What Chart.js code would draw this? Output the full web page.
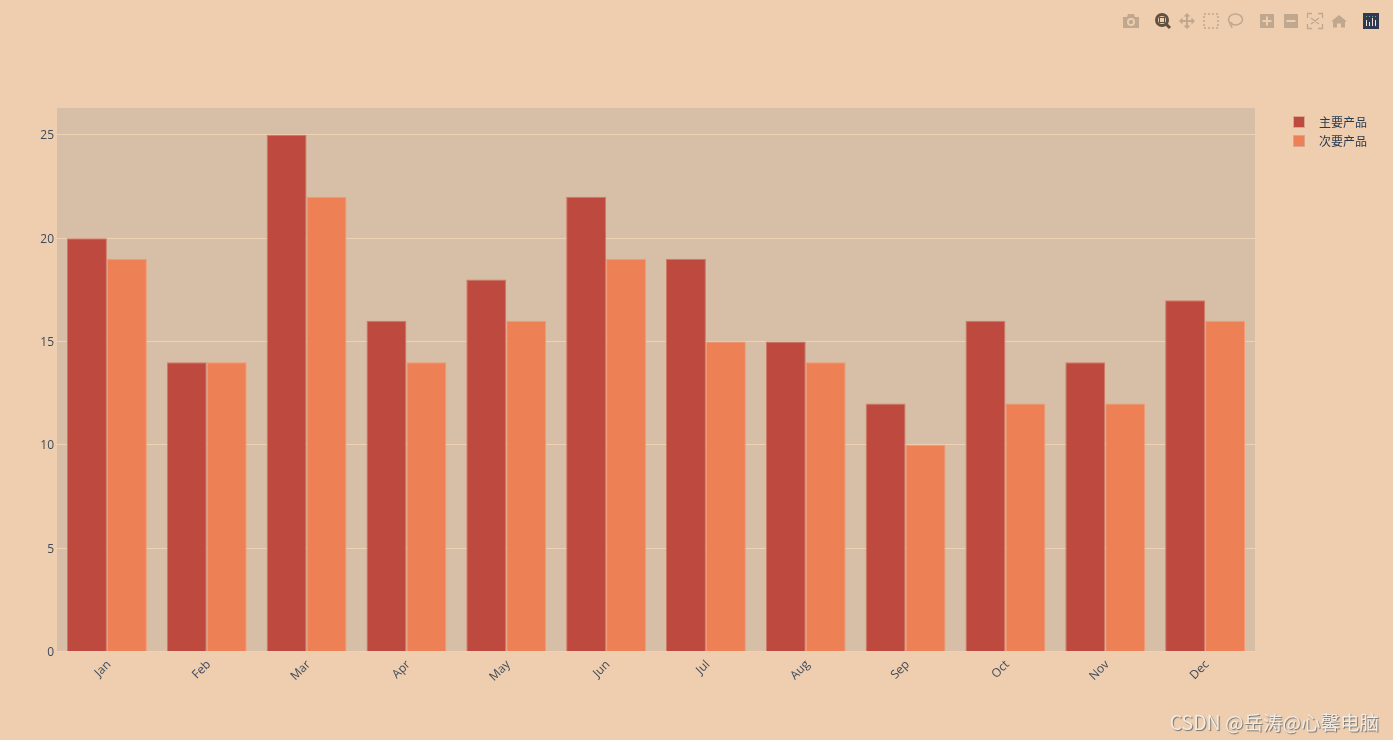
<!DOCTYPE html>
<html>
<head>
<meta charset="utf-8">
<title>主要产品 / 次要产品</title>
<script src="https://cdn.jsdelivr.net/npm/chart.js@4/dist/chart.umd.min.js"></script>
<style>
  html, body { margin: 0; padding: 0; background: #efceaf; overflow: hidden; }
  #wrap { position: relative; width: 1393px; height: 740px; }
  #toolbar { position: absolute; left: 0; top: 0; }
  .legend-row { position: absolute; left: 1293px; height: 18px; line-height: 18px; font: 12px "Noto Sans CJK SC", sans-serif; color: #2a3a50; }
  .legend-row i { position: absolute; left: 0; top: 3px; width: 12px; height: 12px; box-sizing: border-box; border: 1px solid #d9a58c; }
  .legend-row span { position: absolute; left: 26px; top: 0; white-space: nowrap; }
  #mark { position: absolute; right: 14px; top: 707px; font: 19.5px "Noto Sans CJK SC", sans-serif; color: #f0ebe4; text-shadow: 1px 1px 1px #77726b; white-space: nowrap; }
</style>
</head>
<body>
<div id="wrap">
  <canvas id="bars" width="1393" height="740"></canvas>

  <svg id="toolbar" width="1393" height="40" fill="#bfa88f" stroke="none">
    <!-- camera -->
    <path d="M1123 17h4l1-3h6l1 3h4v11h-16z"/>
    <circle cx="1131" cy="22" r="4" fill="#efceaf"/><circle cx="1131" cy="22" r="2.2"/>
    <!-- zoom, active -->
    <circle cx="1162" cy="20" r="5.500" fill="none" stroke="#5f5040" stroke-width="3"/>
    <rect x="1159.500" y="17.500" width="5" height="5" fill="none" stroke="#5f5040" stroke-width="1"/>
    <path d="M1166 24l4 4" stroke="#5f5040" stroke-width="3"/>
    <!-- pan -->
    <path d="M1187 13l3.500 3.500h-2.500v3.500h3.500v-2.500l3.500 3.500-3.500 3.500v-2.500h-3.500v3.500h2.500l-3.500 3.500-3.500-3.500h2.500v-3.500h-3.500v2.500l-3.500-3.500 3.500-3.500v2.500h3.500v-3.500h-2.500z"/>
    <!-- box select -->
    <rect x="1204" y="14" width="14" height="14" fill="none" stroke="#bfa88f" stroke-width="1.5" stroke-dasharray="2 2"/>
    <!-- lasso -->
    <ellipse cx="1235.500" cy="19.500" rx="7" ry="5.500" fill="none" stroke="#bfa88f" stroke-width="1.5"/>
    <circle cx="1231" cy="24" r="1.500" fill="none" stroke="#bfa88f"/>
    <path d="M1231 25l1 3" fill="none" stroke="#bfa88f" stroke-width="1.5"/>
    <!-- zoom in / out -->
    <rect x="1260" y="14" width="14" height="14"/>
    <path d="M1262.500 20h9v2h-9zM1266 16.500h2v9h-2z" fill="#efceaf"/>
    <rect x="1284" y="14" width="14" height="14"/>
    <path d="M1286.500 20h9v2h-9z" fill="#efceaf"/>
    <!-- autoscale -->
    <path d="M1307.500 18v-4.500h4.500M1318 13.500h4.500v4.500M1322.500 24v4.500h-4.500M1312 28.500h-4.500v-4.500M1311 18l8 6M1319 18l-8 6" fill="none" stroke="#bfa88f" stroke-width="1.300"/>
    <!-- reset -->
    <path d="M1339 15l8 6.500h-2v6h-4v-4h-4v4h-4v-6h-2z"/>
    <!-- logo -->
    <rect x="1363" y="13" width="16" height="16" fill="#2f3a50"/>
    <path d="M1366 20h1v6h-1zM1369 22h1v4h-1zM1372 18h1v8h-1zM1375 20h1v6h-1z" fill="#efe6d8"/>
    <path d="M1366 16h1v1h-1zM1369 16h1v1h-1zM1372 16h1v1h-1zM1375 16h1v1h-1z" fill="#6fae8f"/>
  </svg>

  <div id="legend"></div>
  <div id="mark">CSDN @岳涛@心馨电脑</div>
</div>

<script>
const months = ['Jan', 'Feb', 'Mar', 'Apr', 'May', 'Jun', 'Jul', 'Aug', 'Sep', 'Oct', 'Nov', 'Dec'];
const primaryName = '主要产品';
const secondaryName = '次要产品';
const primaryValues = [20, 14, 25, 16, 18, 22, 19, 15, 12, 16, 14, 17];
const secondaryValues = [19, 14, 22, 14, 16, 19, 15, 14, 10, 12, 12, 16];
const yTicks = [0, 5, 10, 15, 20, 25];
const yMax = 26.3;

const primaryColor = '#be4a3f';
const secondaryColor = '#ee8055';
const tickColor = '#3d4a5c';
const tickFont = { family: '"Open Sans"', size: 12 };

// plot area background, the page colour shows around it
const plotBackground = {
  id: 'plotBackground',
  beforeDraw(chart) {
    const { ctx, chartArea: a } = chart;
    ctx.save();
    ctx.fillStyle = '#d6bfa6';
    ctx.fillRect(a.left, a.top, a.right - a.left, a.bottom - a.top);
    ctx.restore();
  }
};

const barsCanvas = document.getElementById('bars');
new Chart(barsCanvas, {
  type: 'bar',
  plugins: [plotBackground],
  data: {
    labels: months,
    datasets: [{
      label: primaryName,
      data: primaryValues,
      backgroundColor: primaryColor,
      borderColor: '#d07a68',
      borderWidth: 1,
      categoryPercentage: 0.8,
      barPercentage: 1
    }, {
      label: secondaryName,
      data: secondaryValues,
      backgroundColor: secondaryColor,
      borderColor: '#f39a75',
      borderWidth: 1,
      categoryPercentage: 0.8,
      barPercentage: 1
    }]
  },
  options: {
    responsive: false,
    animation: false,
    layout: { padding: { left: 0, top: 108, right: 138, bottom: 0 } },
    plugins: { legend: { display: false }, tooltip: { enabled: false } },
    scales: {
      x: {
        grid: { display: false },
        border: { display: false },
        ticks: { color: tickColor, font: tickFont, minRotation: 45, maxRotation: 45, padding: -2, labelOffset: 2, autoSkip: false },
        afterFit(axis) { axis.height = 88.5; }
      },
      y: {
        min: 0,
        max: yMax,
        grid: { color: '#eed2b3', drawTicks: false },
        border: { display: false },
        ticks: { color: tickColor, font: tickFont, padding: 3, labelOffset: 1 },
        afterBuildTicks(axis) { axis.ticks = yTicks.map(v => ({ value: v })); },
        afterFit(axis) { axis.width = 57; }
      }
    }
  }
});

// legend sits outside the plot, same look as the plot's own swatches
const legendBox = document.getElementById('legend');
[[primaryName, primaryColor, 113], [secondaryName, secondaryColor, 132]].forEach(([name, color, top]) => {
  const row = document.createElement('div');
  row.className = 'legend-row';
  row.style.top = top + 'px';
  row.innerHTML = `<i style="background:${color}"></i><span>${name}</span>`;
  legendBox.appendChild(row);
});
</script>
</body>
</html>
